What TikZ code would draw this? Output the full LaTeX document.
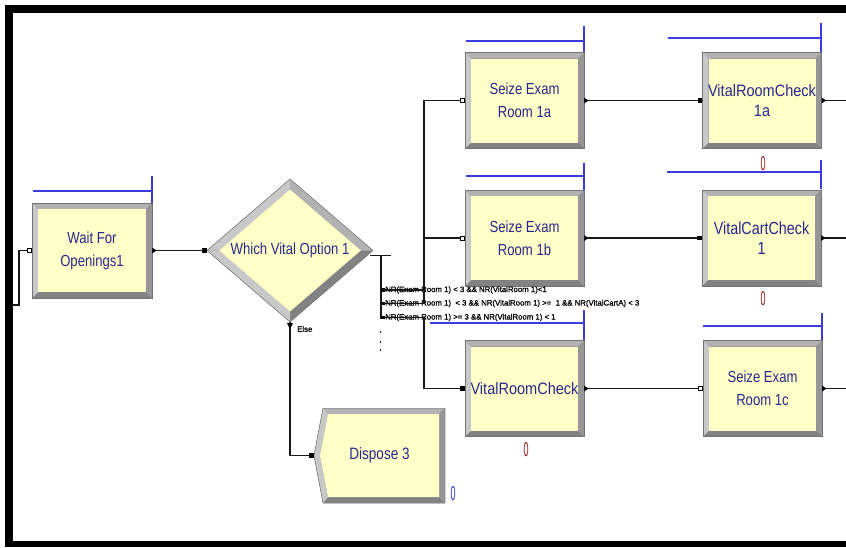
\documentclass[tikz,border=0pt]{standalone}
\usepackage{fontspec}
\usetikzlibrary{shapes.geometric,calc}
\setmainfont{Liberation Sans}
\newfontfamily\modfont[FakeStretch=0.82]{Liberation Sans}
\newfontfamily\modwide[FakeStretch=0.88]{Liberation Sans}
\newfontfamily\zerofont[FakeStretch=0.45]{Liberation Sans}
\newfontfamily\condfont[FakeBold=1]{Liberation Sans}

\definecolor{boxfill}{RGB}{255,255,200}
\definecolor{txtblue}{RGB}{40,40,140}
\definecolor{queueblue}{RGB}{60,60,225}
\definecolor{bevT}{RGB}{178,178,178}
\definecolor{bevL}{RGB}{200,200,200}
\definecolor{bevR}{RGB}{150,150,150}
\definecolor{bevB}{RGB}{130,130,130}
\definecolor{bevOut}{RGB}{115,115,115}
\definecolor{cntred}{RGB}{150,25,25}
\definecolor{cntblue}{RGB}{50,50,200}

\tikzset{
  module/.style={rectangle, minimum width=119pt, minimum height=96pt,
    inner sep=0pt, outer sep=0pt, fill=bevB, draw=bevOut, line width=0.5pt,
    text=txtblue, align=center, font=\modfont\fontsize{16}{23}\selectfont,
    path picture={
      \fill[bevT] (path picture bounding box.north west) -- (path picture bounding box.north east)
        -- ([xshift=-6pt,yshift=-6pt]path picture bounding box.north east)
        -- ([xshift=6pt,yshift=-6pt]path picture bounding box.north west) -- cycle;
      \fill[bevL] (path picture bounding box.north west)
        -- ([xshift=6pt,yshift=-6pt]path picture bounding box.north west)
        -- ([xshift=6pt,yshift=6pt]path picture bounding box.south west)
        -- (path picture bounding box.south west) -- cycle;
      \fill[bevR] (path picture bounding box.north east) -- (path picture bounding box.south east)
        -- ([xshift=-6pt,yshift=6pt]path picture bounding box.south east)
        -- ([xshift=-6pt,yshift=-6pt]path picture bounding box.north east) -- cycle;
      \fill[boxfill] ([xshift=6pt,yshift=-6pt]path picture bounding box.north west)
        rectangle ([xshift=-6pt,yshift=6pt]path picture bounding box.south east);
    }},
  vital/.style={font=\modwide\fontsize{16.5}{20}\selectfont},
  decision/.style={diamond, minimum width=166pt, minimum height=143pt,
    inner sep=0pt, outer sep=0pt, fill=bevB, draw=bevOut, line width=0.5pt,
    text=txtblue, font=\modfont\fontsize{16}{20}\selectfont,
    path picture={
      \fill[bevL] (path picture bounding box.west) -- (path picture bounding box.north)
        -- ([yshift=-10.5pt]path picture bounding box.north)
        -- ([xshift=12.2pt]path picture bounding box.west) -- cycle;
      \fill[bevT] (path picture bounding box.north) -- (path picture bounding box.east)
        -- ([xshift=-12.2pt]path picture bounding box.east)
        -- ([yshift=-10.5pt]path picture bounding box.north) -- cycle;
      \fill[bevL] (path picture bounding box.west) -- (path picture bounding box.south)
        -- ([yshift=10.5pt]path picture bounding box.south)
        -- ([xshift=12.2pt]path picture bounding box.west) -- cycle;
      \fill[boxfill] ([yshift=-10.5pt]path picture bounding box.north)
        -- ([xshift=-12.2pt]path picture bounding box.east)
        -- ([yshift=10.5pt]path picture bounding box.south)
        -- ([xshift=12.2pt]path picture bounding box.west) -- cycle;
    }},
  dispose/.style={rectangle, minimum width=131pt, minimum height=95pt,
    inner sep=0pt, outer sep=0pt, fill=white, line width=0.5pt,
    text=txtblue, font=\modfont\fontsize{16.5}{20}\selectfont,
    path picture={
      \fill[bevB] ([xshift=9pt]path picture bounding box.north west)
        -- (path picture bounding box.north east) -- (path picture bounding box.south east)
        -- ([xshift=9pt]path picture bounding box.south west)
        -- (path picture bounding box.west) -- cycle;
      \fill[bevT] ([xshift=9pt]path picture bounding box.north west)
        -- (path picture bounding box.north east)
        -- ([xshift=-6pt,yshift=-6pt]path picture bounding box.north east)
        -- ([xshift=14pt,yshift=-6pt]path picture bounding box.north west) -- cycle;
      \fill[bevL] ([xshift=9pt]path picture bounding box.north west)
        -- ([xshift=14pt,yshift=-6pt]path picture bounding box.north west)
        -- ([xshift=6pt]path picture bounding box.west)
        -- ([xshift=14pt,yshift=6pt]path picture bounding box.south west)
        -- ([xshift=9pt]path picture bounding box.south west)
        -- (path picture bounding box.west) -- cycle;
      \fill[bevR] (path picture bounding box.north east) -- (path picture bounding box.south east)
        -- ([xshift=-6pt,yshift=6pt]path picture bounding box.south east)
        -- ([xshift=-6pt,yshift=-6pt]path picture bounding box.north east) -- cycle;
      \fill[boxfill] ([xshift=14pt,yshift=-6pt]path picture bounding box.north west)
        -- ([xshift=-6pt,yshift=-6pt]path picture bounding box.north east)
        -- ([xshift=-6pt,yshift=6pt]path picture bounding box.south east)
        -- ([xshift=14pt,yshift=6pt]path picture bounding box.south west)
        -- ([xshift=6pt]path picture bounding box.west) -- cycle;
      \draw[bevOut] ([xshift=9pt]path picture bounding box.north west)
        -- (path picture bounding box.north east) -- (path picture bounding box.south east)
        -- ([xshift=9pt]path picture bounding box.south west)
        -- (path picture bounding box.west) -- cycle;
    }},
  conn/.style={draw=black!90, line width=1.1pt},
  queue/.style={draw=queueblue, line width=1.2pt},
  inport/.style={rectangle, draw=black, fill=white, line width=0.7pt, minimum size=4pt, inner sep=0pt},
  inportsolid/.style={rectangle, fill=black, minimum size=4.5pt, inner sep=0pt},
  exitpt/.style={rectangle, fill=black, minimum size=3.5pt, inner sep=0pt},
  cond/.style={font=\condfont\fontsize{7.8}{8}\selectfont, anchor=west, inner sep=0pt, text=black},
  counter/.style={font=\zerofont\fontsize{20}{20}\selectfont, inner sep=0pt},
}

% small black output arrow on the right side of a module
\newcommand\outtri[1]{\fill ([yshift=3pt]#1.east) -- ([xshift=4.5pt]#1.east) -- ([yshift=-3pt]#1.east) -- cycle;}

\begin{document}
\begin{tikzpicture}[x=1pt, y=-1pt]
\useasboundingbox (0,0) rectangle (846,547);
\fill[white] (0,0) rectangle (846,547);

% window frame
\fill[black] (5,5) rectangle (846,13);
\fill[black] (5,5) rectangle (13,547);
\fill[black] (5,541) rectangle (846,547);

% modules
\node[module, minimum width=120pt, minimum height=95pt] (wf) at (92,250.5) {Wait For\\Openings1};
\node[decision] (dec) at (290,250.5) {Which Vital Option 1};
\node[module] (sa) at (524.5,100.5) {Seize Exam\\Room 1a};
\node[module, vital] (vra) at (762,100.5) {VitalRoomCheck\\1a};
\node[module] (sb) at (524.5,238) {Seize Exam\\Room 1b};
\node[module, font=\modfont\fontsize{17.5}{20}\selectfont] (vcc) at (761.5,238) {VitalCartCheck\\1};
\node[module, vital] (vr) at (524.5,388.5) {VitalRoomCheck};
\node[module] (sc) at (762.5,388.5) {Seize Exam\\Room 1c};
\node[dispose] (disp) at (379.5,455.5) {Dispose 3};

% queue markers
\draw[queue] (33,191) -- (152,191) (152,176) -- (152,203);
\draw[queue] (466,41) -- (584,41) (584,26) -- (584,52);
\draw[queue] (668,38) -- (821,38) (821,23) -- (821,52);
\draw[queue] (466,176) -- (584,176) (584,163) -- (584,190);
\draw[queue] (667,172) -- (821,172) (821,160) -- (821,189);
\draw[queue] (430,323) -- (584,323) (584,310) -- (584,340);
\draw[queue] (703,326) -- (822,326) (822,313) -- (822,340);

% counters
\node[counter, text=cntred] (n1) at (763,164) {0};
\node[counter, text=cntred] (n2) at (763,299) {0};
\node[counter, text=cntred] (n3) at (526,450) {0};
\node[counter, text=cntblue] (n4) at (453,494) {0};

% decision conditions
\node[cond] (t1) at (385,290) {NR(Exam Room 1) < 3 \&\& NR(VitalRoom 1)<1};
\node[cond] (t2) at (385,303.5) {NR(Exam Room 1)\ \ < 3 \&\& NR(VitalRoom 1) >=\ \ 1 \&\& NR(VitalCartA) < 3};
\node[cond] (t3) at (385,317.5) {NR(Exam Room 1) >= 3 \&\& NR(VitalRoom 1) < 1};
\node[cond] (else) at (297,329) {Else};

% decision exit bar
\draw[conn] ([xshift=-3pt,yshift=-5pt]dec.east) -- ++(21,0);
\coordinate (xb) at (381,255.5);
\draw[conn] (xb) -- (381,319);
\fill (380.5,332) circle (0.8pt) (380.5,342) circle (0.8pt) (380.5,350) circle (0.8pt);
\node[exitpt] (x1) at (383,290) {};
\node[exitpt] (x2) at (383,303.5) {};
\node[exitpt] (x3) at (383,317.5) {};

% connectors
\coordinate (bus) at (424,250);
\coordinate (lf) at (13,305);
\coordinate (ea) at (846,100.5);
\coordinate (eb) at (846,238);
\coordinate (ec) at (846,388.5);
\draw[conn] (wf.west) -- ++(-13,0) |- (lf);
\draw[conn] (wf.east) -- (dec.west);
\draw[conn] (dec.south) |- (disp.west);
\draw[conn] (x1.center) -- (x1 -| bus) |- (sa.west);
\draw[conn] (x2.center) -- (x2 -| bus) |- (sb.west);
\draw[conn] (x3.center) -- (x3 -| bus) |- (vr.west);
\draw[conn] (sa.east) -- (vra.west);
\draw[conn] (sb.east) -- (vcc.west);
\draw[conn] (vr.east) -- (sc.west);
\draw[conn] (vra.east) -- (ea);
\draw[conn] (vcc.east) -- (eb);
\draw[conn] (sc.east) -- (ec);

% entry points
\node[inport] (p1) at ([xshift=-2.5pt]wf.west) {};
\node[inportsolid] (p2) at ([xshift=-2.5pt]dec.west) {};
\node[inport] (p3) at ([xshift=-2.5pt]sa.west) {};
\node[inportsolid] (p4) at ([xshift=-2.5pt]vra.west) {};
\node[inport] (p5) at ([xshift=-2.5pt]sb.west) {};
\node[inportsolid] (p6) at ([xshift=-2.5pt]vcc.west) {};
\node[inportsolid] (p7) at ([xshift=-2.5pt]vr.west) {};
\node[inport] (p8) at ([xshift=-2.5pt]sc.west) {};
\node[inportsolid] (p9) at ([xshift=-2.5pt]disp.west) {};

% exit points
\outtri{wf}
\outtri{sa}
\outtri{vra}
\outtri{sb}
\outtri{vcc}
\outtri{vr}
\outtri{sc}
\fill ([xshift=-3pt,yshift=-1pt]dec.south) -- ([xshift=3pt,yshift=-1pt]dec.south) -- ([yshift=-7pt]dec.south) -- cycle;
\end{tikzpicture}
\end{document}
